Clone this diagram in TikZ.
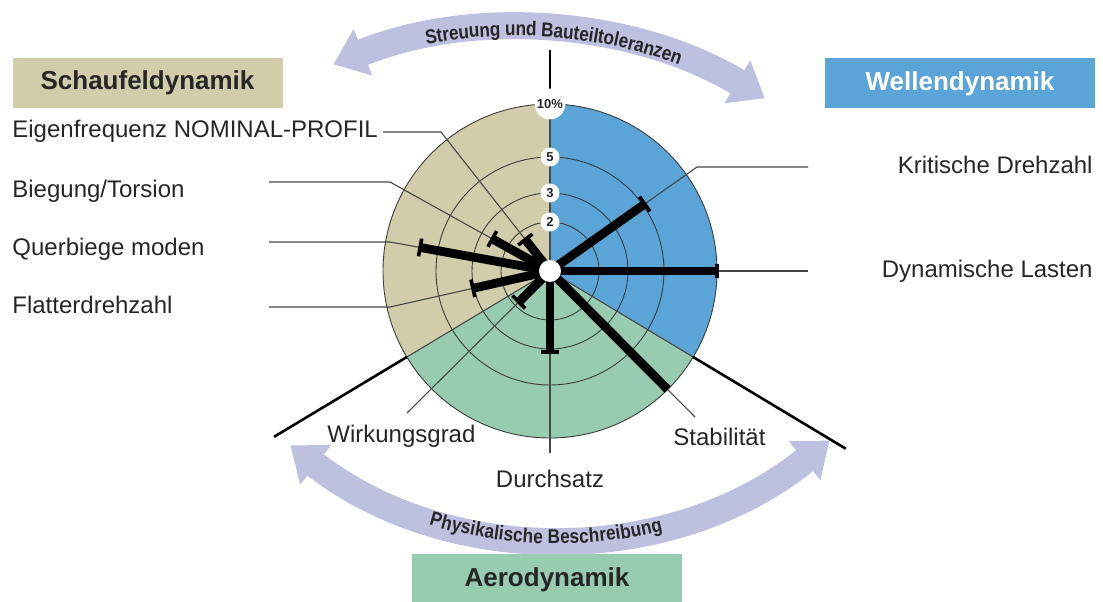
\documentclass[tikz,border=0pt]{standalone}
\usepackage{fontspec}
\setmainfont{Liberation Sans}
\newfontfamily\bandfont[FakeStretch=0.86]{Liberation Sans}
\usetikzlibrary{calc,arrows.meta,decorations.text}

\definecolor{schaufelcol}{RGB}{209,204,170}
\definecolor{wellecol}{RGB}{90,164,215}
\definecolor{aerocol}{RGB}{152,204,176}
\definecolor{bandcol}{RGB}{189,192,223}
\definecolor{inkcol}{RGB}{38,38,38}

\tikzset{
  ring/.style={draw=inkcol!90, line width=0.45pt},
  spoke/.style={draw=inkcol!85, line width=0.55pt},
  barline/.style={draw=black, line width=4.4pt},
  capline/.style={draw=black, line width=1.8pt},
  extline/.style={draw=black, line width=1.3pt},
  numlbl/.style={circle, fill=white, inner sep=0.6pt, minimum size=9.5pt,
    font=\bfseries\fontsize{6.5}{7}\selectfont, text=inkcol},
  titlebox/.style={minimum width=135pt, minimum height=25pt, inner sep=0pt,
    font=\bfseries\fontsize{13}{15}\selectfont, text=inkcol},
  itemlbl/.style={inner sep=0pt, font=\fontsize{12}{14}\selectfont, text=inkcol},
  band/.style={draw=bandcol, line width=13.5pt,
    {Triangle[width=24pt,length=16pt]}-{Triangle[width=24pt,length=16pt]}},
  bandtext/.style={decorate, decoration={text along path, text align=center,
    raise=-3.4pt, text color=inkcol,
    text format delimiters={|}{|}}},
}

\begin{document}
\begin{tikzpicture}[x=0.5pt,y=0.5pt]
    \useasboundingbox (0,0) rectangle (1103,601);
    % radii of the rings
    \def\rTwo{49}
    \def\rThree{78}
    \def\rFive{114}
    \def\rTen{167}
    % centres
    \coordinate (c) at (550,330);
    \coordinate (topc) at (515,87);
    \coordinate (botc) at (557,497);

    % bands with arrows
    \draw[band] ($(topc)+(112:485)$) arc[start angle=112, end angle=59, radius=485];
    \path[bandtext, decoration={text={|\bandfont\bfseries\fontsize{10}{11}\selectfont|Streuung und Bauteiltoleranzen}}]
      ($(topc)+(108:485)$) arc[start angle=108, end angle=62.6, radius=485];
    \draw[band] ($(botc)+(232:433)$) arc[start angle=232, end angle=309, radius=433];
    \path[bandtext, decoration={text={|\bandfont\bfseries\fontsize{10}{11}\selectfont|Physikalische Beschreibung}}]
      ($(botc)+(238.5:433)$) arc[start angle=238.5, end angle=298.5, radius=433];

    % sectors
    \fill[schaufelcol] (c) -- ++(90:\rTen) arc[start angle=90, end angle=211, radius=\rTen] -- cycle;
    \fill[aerocol] (c) -- ++(211:\rTen) arc[start angle=211, end angle=329, radius=\rTen] -- cycle;
    \fill[wellecol] (c) -- ++(-31:\rTen) arc[start angle=-31, end angle=90, radius=\rTen] -- cycle;

    % rings
    \draw[ring] (c) circle[radius=\rTwo];
    \draw[ring] (c) circle[radius=\rThree];
    \draw[ring] (c) circle[radius=\rFive];
    \draw[ring] (c) circle[radius=\rTen];

    % sector borders
    \draw[spoke] (c) -- ++(90:\rTen);
    \draw[spoke] (c) -- ++(211:\rTen);
    \draw[spoke] (c) -- ++(-31:\rTen);
    \draw[extline] ($(c)+(211:\rTen)$) -- ($(c)+(211:322)$);
    \draw[extline] ($(c)+(-31:\rTen)$) -- ($(c)+(-31:345)$);
    \draw[extline] ($(c)+(90:181)$) -- ($(c)+(90:221)$);

    % leader points
    \coordinate (eigenknee) at (441,469);
    \coordinate (eigenend) at (383,469);
    \coordinate (biegknee) at (390,419);
    \coordinate (biegend) at (269,419);
    \coordinate (querknee) at (390,359);
    \coordinate (querend) at (269,359);
    \coordinate (flatknee) at (390,294);
    \coordinate (flatend) at (269,294);
    \coordinate (kritknee) at (697,434);
    \coordinate (kritend) at (808,434);
    \coordinate (dynend) at (808,330);
    \coordinate (wirkend) at (407,188);
    \coordinate (durchend) at (550,148);
    \coordinate (stabend) at (695,184);

    % leaders
    \draw[spoke] (c) -- (eigenknee) -- (eigenend);
    \draw[spoke] (c) -- (biegknee) -- (biegend);
    \draw[spoke] (c) -- (querknee) -- (querend);
    \draw[spoke] (c) -- (flatknee) -- (flatend);
    \draw[spoke] (c) -- (kritknee) -- (kritend);
    \draw[spoke] (c) -- (dynend);
    \draw[spoke] (c) -- (wirkend);
    \draw[spoke] (c) -- (durchend);
    \draw[spoke] (c) -- (stabend);

    % bars
    \draw[barline] (c) -- ($(c)!20pt!(eigenknee)$) coordinate (eigentip);
    \draw[capline] ($(eigentip)!4.5pt!90:(c)$) -- ($(eigentip)!4.5pt!-90:(c)$);
    \draw[barline] (c) -- ($(c)!33pt!(biegknee)$) coordinate (biegtip);
    \draw[capline] ($(biegtip)!4.5pt!90:(c)$) -- ($(biegtip)!4.5pt!-90:(c)$);
    \draw[barline] (c) -- ($(c)!66pt!(querknee)$) coordinate (quertip);
    \draw[capline] ($(quertip)!4.5pt!90:(c)$) -- ($(quertip)!4.5pt!-90:(c)$);
    \draw[barline] (c) -- ($(c)!39.5pt!(flatknee)$) coordinate (flattip);
    \draw[capline] ($(flattip)!4.5pt!90:(c)$) -- ($(flattip)!4.5pt!-90:(c)$);
    \draw[barline] (c) -- ($(c)!22pt!(wirkend)$) coordinate (wirktip);
    \draw[capline] ($(wirktip)!4.5pt!90:(c)$) -- ($(wirktip)!4.5pt!-90:(c)$);
    \draw[barline] (c) -- ($(c)!40.5pt!(durchend)$) coordinate (durchtip);
    \draw[capline] ($(durchtip)!4.5pt!90:(c)$) -- ($(durchtip)!4.5pt!-90:(c)$);
    \draw[barline] (c) -- ($(c)!83.5pt!(stabend)$) coordinate (stabtip);
    \draw[barline] (c) -- ($(c)!83.5pt!(dynend)$) coordinate (dyntip);
    \draw[capline] ($(dyntip)!3.5pt!90:(c)$) -- ($(dyntip)!3.5pt!-90:(c)$);
    \draw[barline] (c) -- ($(c)!58pt!(kritknee)$) coordinate (krittip);
    \draw[capline] ($(krittip)!4.5pt!90:(c)$) -- ($(krittip)!4.5pt!-90:(c)$);

    % hub and scale
    \node[circle, fill=white, minimum size=11pt, inner sep=0pt] (hub) at (c) {};
    \node[numlbl] (ntwo) at ($(c)+(90:\rTwo)$) {2};
    \node[numlbl] (nthree) at ($(c)+(90:\rThree)$) {3};
    \node[numlbl] (nfive) at ($(c)+(90:\rFive)$) {5};
    \node[numlbl] (nten) at ($(c)+(90:\rTen)$) {10\%};

    % title boxes
    \node[titlebox, fill=schaufelcol] (schaufel) at (147.5,518) {Schaufeldynamik};
    \node[titlebox, fill=wellecol, text=white] (welle) at (960,517.5) {Wellendynamik};
    \node[titlebox, fill=aerocol, anchor=north] (aero) at (547,47) {Aerodynamik};

    % labels
    \node[itemlbl, anchor=base west] (eigenlbl) at (12,463) {Eigenfrequenz NOMINAL-PROFIL};
    \node[itemlbl, anchor=base west] (bieglbl) at (12,403) {Biegung/Torsion};
    \node[itemlbl, anchor=base west] (querlbl) at (12,346) {Querbiege moden};
    \node[itemlbl, anchor=base west] (flatlbl) at (12,288) {Flatterdrehzahl};
    \node[itemlbl, anchor=base east] (kritlbl) at (1093,428) {Kritische Drehzahl};
    \node[itemlbl, anchor=base east] (dynlbl) at (1093,324) {Dynamische Lasten};
    \node[itemlbl, anchor=base west] (wirklbl) at (327,159) {Wirkungsgrad};
    \node[itemlbl, anchor=base] (durchlbl) at (550,114) {Durchsatz};
    \node[itemlbl, anchor=base west] (stablbl) at (673,156) {Stabilität};
\end{tikzpicture}
\end{document}
